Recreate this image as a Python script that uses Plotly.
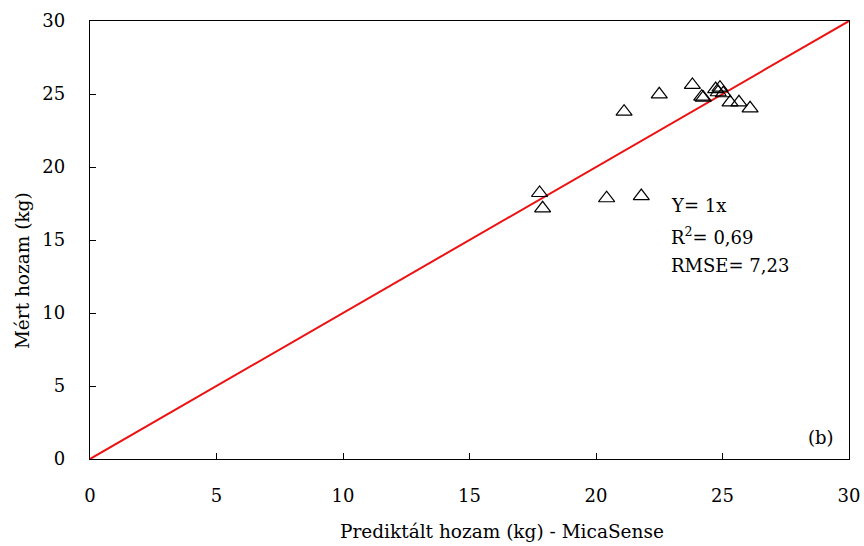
import plotly.graph_objects as go

predicted = [17.77, 17.89, 20.42, 21.79, 21.11, 22.50, 23.81, 24.18, 24.24,
             24.73, 24.90, 24.83, 25.03, 25.30, 25.65, 26.09]
measured = [18.22, 17.17, 17.86, 18.01, 23.79, 24.98, 25.62, 24.82, 24.75,
            25.34, 25.43, 25.12, 25.05, 24.43, 24.43, 24.02]
line_x = [0, 30]
line_y = [0, 30]
ticks = [0, 5, 10, 15, 20, 25, 30]
stats_lines = ["Y= 1x", "R<sup>2</sup>= 0,69", "RMSE= 7,23"]

FONT = "DejaVu Serif"
FS = 18

fig = go.Figure()
fig.add_trace(go.Scatter(x=line_x, y=line_y, mode="lines",
                         line=dict(color="#ee1111", width=2), showlegend=False))
fig.add_trace(go.Scatter(x=predicted, y=measured, mode="markers",
                         marker=dict(symbol="triangle-up-open", size=14,
                                     color="black", line=dict(width=1.2)),
                         showlegend=False))

for i, txt in enumerate(stats_lines):
    fig.add_annotation(x=0.763, y=0.578 - i * 0.0685, xref="paper", yref="paper",
                       text=txt, showarrow=False, xanchor="left", yanchor="middle",
                       font=dict(family=FONT, size=FS, color="black"))
fig.add_annotation(x=0.983, y=0.05, xref="paper", yref="paper", text="(b)",
                   showarrow=False, xanchor="right", yanchor="middle",
                   font=dict(family=FONT, size=FS, color="black"))
# axis titles
fig.add_annotation(x=0.543, y=-0.165, xref="paper", yref="paper",
                   text="Prediktált hozam (kg) - MicaSense", showarrow=False,
                   xanchor="center", yanchor="middle",
                   font=dict(family=FONT, size=18.5, color="black"))
fig.add_annotation(x=-0.089, y=0.43, xref="paper", yref="paper",
                   text="Mért hozam (kg)", showarrow=False, textangle=-90,
                   xanchor="center", yanchor="middle",
                   font=dict(family=FONT, size=18.5, color="black"))

axis_common = dict(range=[0, 30], tickvals=ticks, showgrid=False, zeroline=False,
                   showline=True, linecolor="black", linewidth=1.3, mirror=True,
                   ticks="inside", ticklen=6, tickcolor="black", automargin=False,
                   tickfont=dict(family=FONT, size=FS, color="black"))

fig.update_layout(
    width=864, height=546,
    margin=dict(l=90, r=15, t=21, b=87),
    paper_bgcolor="white", plot_bgcolor="white",
    font=dict(family=FONT, size=FS, color="black"),
    xaxis=dict(**axis_common, ticklabelstandoff=20),
    yaxis=dict(**axis_common, ticklabelstandoff=20),
)
fig.write_html("out.html")
